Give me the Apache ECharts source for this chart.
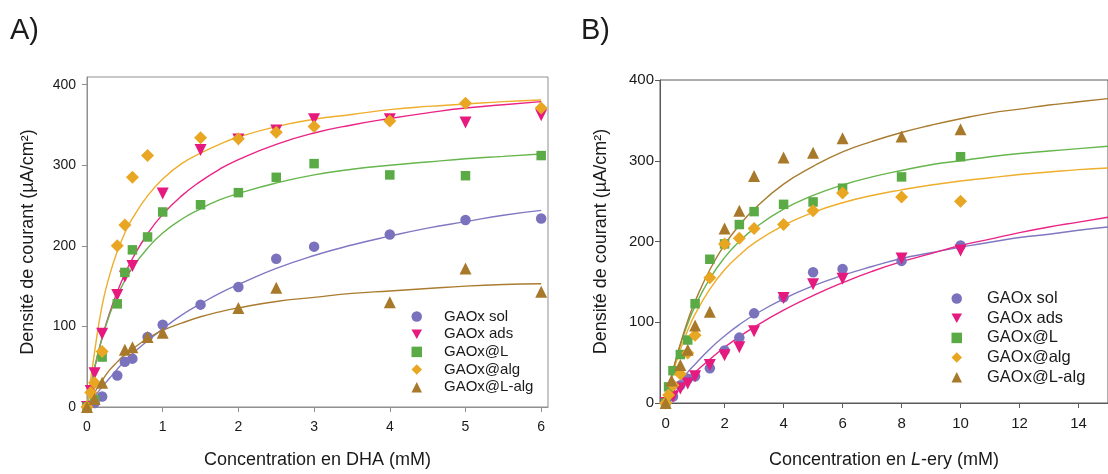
<!DOCTYPE html>
<html><head><meta charset="utf-8">
<script src="https://cdn.jsdelivr.net/npm/echarts@6/dist/echarts.min.js"></script>
<style>html,body{margin:0;padding:0;background:#fff}#c{width:1108px;height:474px}</style>
</head><body><div id="c"></div>
<script>
// ---------- names / styles ----------
const seriesNames = ['GAOx sol', 'GAOx ads', 'GAOx@L', 'GAOx@alg', 'GAOx@L-alg'];
const markerColors = ['#7a72bc', '#e5197e', '#5aab46', '#e9a622', '#a8792b'];
const lineColors = ['#8078c2', '#ea2386', '#66b54d', '#eeae2c', '#a97c30'];
const markerSymbols = ['circle', 'triangle', 'rect', 'diamond', 'triangle'];
const legendIcons = ['circle', 'path://M0,0 L10,0 L5,9 Z', 'rect', 'diamond', 'triangle'];
const markerRotations = [0, 180, 0, 0, 0];
const markerSizes = [10.5, 12, 9.5, 13, 12];

// ---------- panel A (DHA) measured points ----------
const aSolX = [0, 0.1, 0.2, 0.4, 0.5, 0.6, 0.8, 1, 1.5, 2, 2.5, 3, 4, 5, 6];
const aSolY = [0, 5, 13, 39, 56, 60, 87, 102, 127, 149, 184, 199, 214, 232, 234];
const aAdsX = [0, 0.05, 0.1, 0.2, 0.4, 0.5, 0.6, 1, 1.5, 2, 2.5, 3, 4, 5, 6];
const aAdsY = [0, 20, 42, 91, 139, 162, 175, 265, 319, 332, 343, 357, 357, 353, 362];
const aLX = [0, 0.1, 0.2, 0.4, 0.5, 0.6, 0.8, 1, 1.5, 2, 2.5, 3, 4, 5, 6];
const aLY = [0, 9, 62, 128, 167, 195, 211, 242, 251, 266, 285, 302, 288, 287, 312];
const aAlgX = [0, 0.05, 0.1, 0.2, 0.4, 0.5, 0.6, 0.8, 1.5, 2, 2.5, 3, 4, 5, 6];
const aAlgY = [0, 18, 30, 69, 200, 226, 285, 312, 334, 333, 341, 348, 355, 377, 371];
const aLalgX = [0, 0.1, 0.2, 0.5, 0.6, 0.8, 1, 2, 2.5, 4, 5, 6];
const aLalgY = [0, 10, 30, 71, 74, 87, 92, 123, 148, 130, 172, 143];

// ---------- panel A fitted curves ----------
const aFitX = [0, 0.1, 0.2, 0.3, 0.4, 0.5, 0.6, 0.8, 1, 1.25, 1.5, 1.75, 2, 2.5, 3, 3.5, 4, 4.5, 5, 5.5, 6];
const aFitSol = [0, 13, 25, 36, 47, 57, 66, 82, 97, 114, 128, 141, 152, 172, 188, 201, 212, 222, 230, 238, 244];
const aFitAds = [0, 48, 86, 117, 143, 165, 184, 215, 239, 262, 280, 295, 307, 326, 340, 350, 358, 365, 371, 375, 379];
const aFitL = [0, 49, 86, 115, 138, 157, 173, 197, 216, 233, 246, 257, 265, 278, 288, 295, 300, 304, 308, 311, 314];
const aFitAlg = [0, 68, 126, 164, 193, 216, 234, 262, 283, 302, 315, 326, 335, 348, 357, 363, 369, 373, 376, 379, 381];
const aFitLalg = [0, 18, 33, 46, 56, 65, 72, 85, 95, 104, 112, 118, 123, 131, 136, 141, 144, 147, 150, 152, 153];

// ---------- panel B (L-ery) measured points ----------
const bSolX = [0, 0.25, 0.5, 0.75, 1, 1.5, 2, 2.5, 3, 4, 5, 6, 8, 10];
const bSolY = [0, 8, 22, 30, 33, 43, 65, 81, 111, 131, 162, 166, 176, 195];
const bAdsX = [0, 0.25, 0.5, 0.75, 1, 1.5, 2, 2.5, 3, 4, 5, 6, 8, 10];
const bAdsY = [0, 8, 18, 24, 33, 47, 59, 69, 89, 130, 147, 154, 179, 189];
const bLX = [0, 0.1, 0.25, 0.5, 0.75, 1, 1.5, 2, 2.5, 3, 4, 5, 6, 8, 10];
const bLY = [0, 20, 40, 60, 78, 123, 178, 197, 221, 237, 246, 249, 266, 280, 305];
const bAlgX = [0, 0.1, 0.25, 0.5, 0.75, 1, 1.5, 2, 2.5, 3, 4, 5, 6, 8, 10];
const bAlgY = [0, 10, 22, 36, 62, 84, 155, 197, 204, 216, 221, 238, 260, 255, 250];
const bLalgX = [0, 0.2, 0.5, 0.75, 1, 1.5, 2, 2.5, 3, 4, 5, 6, 8, 10];
const bLalgY = [0, 28, 47, 66, 96, 113, 216, 238, 281, 304, 310, 328, 330, 339];

// ---------- panel B fitted curves ----------
const bFitX = [0, 0.25, 0.5, 0.75, 1, 1.5, 2, 2.5, 3, 4, 5, 6, 7, 8, 9, 10, 11, 12, 13, 14, 15];
const bFitSol = [0, 14, 26, 38, 48, 67, 83, 97, 109, 129, 145, 158, 169, 179, 186, 193, 199, 205, 209, 214, 218];
const bFitAds = [0, 10, 20, 29, 38, 54, 69, 82, 94, 115, 133, 149, 163, 175, 185, 195, 203, 211, 218, 224, 230];
const bFitL = [0, 40, 72, 98, 120, 154, 180, 200, 216, 240, 257, 270, 280, 288, 295, 300, 305, 309, 312, 315, 318];
const bFitAlg = [0, 37, 66, 90, 110, 141, 165, 183, 198, 220, 236, 248, 257, 264, 270, 275, 279, 283, 286, 289, 291];
const bFitLalg = [0, 40, 73, 102, 126, 165, 196, 220, 240, 271, 293, 311, 324, 335, 344, 352, 359, 364, 369, 373, 377];

// ---------- tick labels ----------
const aXTicks = [0, 1, 2, 3, 4, 5, 6];
const aYTicks = [0, 100, 200, 300, 400];
const bXTicks = [0, 2, 4, 6, 8, 10, 12, 14];
const bYTicks = [0, 100, 200, 300, 400];

const FONT = '"Liberation Sans", Arial, sans-serif';
const TXT = '#1a1a1a';

const pair = (xs, ys) => xs.map((x, i) => [x, ys[i]]);

const aPoints = [[aSolX, aSolY], [aAdsX, aAdsY], [aLX, aLY], [aAlgX, aAlgY], [aLalgX, aLalgY]];
const bPoints = [[bSolX, bSolY], [bAdsX, bAdsY], [bLX, bLY], [bAlgX, bAlgY], [bLalgX, bLalgY]];
const aFits = [aFitSol, aFitAds, aFitL, aFitAlg, aFitLalg];
const bFits = [bFitSol, bFitAds, bFitL, bFitAlg, bFitLalg];

const series = [];
[[aFits, aFitX, 0], [bFits, bFitX, 1]].forEach(([fits, fx, gi]) => {
  fits.forEach((fy, i) => {
    series.push({
      type: 'line', name: 'fit' + gi + i, xAxisIndex: gi, yAxisIndex: gi,
      data: pair(fx, fy), smooth: 0.5, showSymbol: false,
      lineStyle: { color: lineColors[i], width: 1.4 }, z: 2, silent: true
    });
  });
});
[[aPoints, 0], [bPoints, 1]].forEach(([pts, gi]) => {
  pts.forEach(([xs, ys], i) => {
    series.push({
      type: 'scatter', name: seriesNames[i], xAxisIndex: gi, yAxisIndex: gi,
      data: pair(xs, ys), symbol: markerSymbols[i], symbolRotate: markerRotations[i],
      symbolSize: markerSizes[i], clip: false,
      itemStyle: { color: markerColors[i], opacity: 1 }, z: 3
    });
  });
});

const legendData = seriesNames.map((n, i) => ({ name: n, icon: legendIcons[i] }));

function xAxis(gi, min, max, ticks, name, color, fs) {
  return {
    gridIndex: gi, type: 'value', min: min, max: max,
    axisLine: { show: true, onZero: false, lineStyle: { color: color, width: 1 } },
    axisTick: { show: true, customValues: ticks, length: 5, lineStyle: { color: color } },
    axisLabel: { customValues: ticks, fontSize: fs, color: TXT, fontFamily: FONT, margin: 13 },
    splitLine: { show: false },
    name: name, nameLocation: 'middle', nameGap: 44,
    nameTextStyle: { fontSize: 18, color: TXT, fontFamily: FONT }
  };
}
function yAxis(gi, min, max, ticks, color, fs, margin) {
  return {
    gridIndex: gi, type: 'value', min: min, max: max,
    axisLine: { show: true, onZero: false, lineStyle: { color: color, width: 1 } },
    axisTick: { show: true, customValues: ticks, length: 5, lineStyle: { color: color } },
    axisLabel: { customValues: ticks, fontSize: fs, color: TXT, fontFamily: FONT, margin: margin },
    splitLine: { show: false },
    name: 'Densité de courant (µA/cm²)', nameLocation: 'middle', nameGap: 50,
    nameTextStyle: { fontSize: 18, color: TXT, fontFamily: FONT }
  };
}

const option = {
  backgroundColor: '#ffffff',
  animation: false,
  title: [
    { text: 'A)', left: 10, top: 16, padding: 0, textStyle: { fontSize: 29, fontWeight: 'normal', color: TXT, fontFamily: FONT } },
    { text: 'B)', left: 581, top: 16, padding: 0, textStyle: { fontSize: 29, fontWeight: 'normal', color: TXT, fontFamily: FONT } }
  ],
  grid: [
    { left: 87, top: 77, width: 461, height: 331, show: true, borderColor: '#8f8f8f', borderWidth: 1, backgroundColor: 'transparent' },
    { left: 660, top: 80, width: 456, height: 331, show: true, borderColor: '#5a5a5a', borderWidth: 1, backgroundColor: 'transparent' }
  ],
  xAxis: [
    xAxis(0, 0, 6.09, aXTicks, 'Concentration en DHA (mM)', '#8f8f8f', 14),
    Object.assign(xAxis(1, -0.19, 15, bXTicks, '', '#5a5a5a', 15), {
      name: '{n|Concentration en }{i|L}{n|-ery (mM)}',
      nameGap: 48,
      nameTextStyle: {
        fontSize: 18, color: TXT, fontFamily: FONT,
        rich: {
          n: { fontSize: 18, color: TXT, fontFamily: FONT },
          i: { fontSize: 18, color: TXT, fontFamily: FONT, fontStyle: 'italic' }
        }
      }
    })
  ],
  yAxis: [
    yAxis(0, 0, 409.5, aYTicks, '#8f8f8f', 14, 11),
    yAxis(1, 0, 400, bYTicks, '#5a5a5a', 15, 6)
  ],
  legend: [
    {
      data: legendData, orient: 'vertical', left: 411.5, top: 309, padding: 0,
      itemWidth: 10.5, itemHeight: 10.5, itemGap: 2.7, selectedMode: false,
      textStyle: { fontSize: 15, color: TXT, fontFamily: FONT, padding: [0, 0, 0, 17] }
    },
    {
      data: legendData, orient: 'vertical', left: 951.5, top: 290, padding: 0,
      itemWidth: 10.5, itemHeight: 10.5, itemGap: 2.7, selectedMode: false,
      textStyle: { fontSize: 16.5, color: TXT, fontFamily: FONT, padding: [0, 0, 0, 20] }
    }
  ],
  series: series
};

const chart = echarts.init(document.getElementById('c'), null, { renderer: 'canvas' });
chart.setOption(option);
</script>
</body></html>
